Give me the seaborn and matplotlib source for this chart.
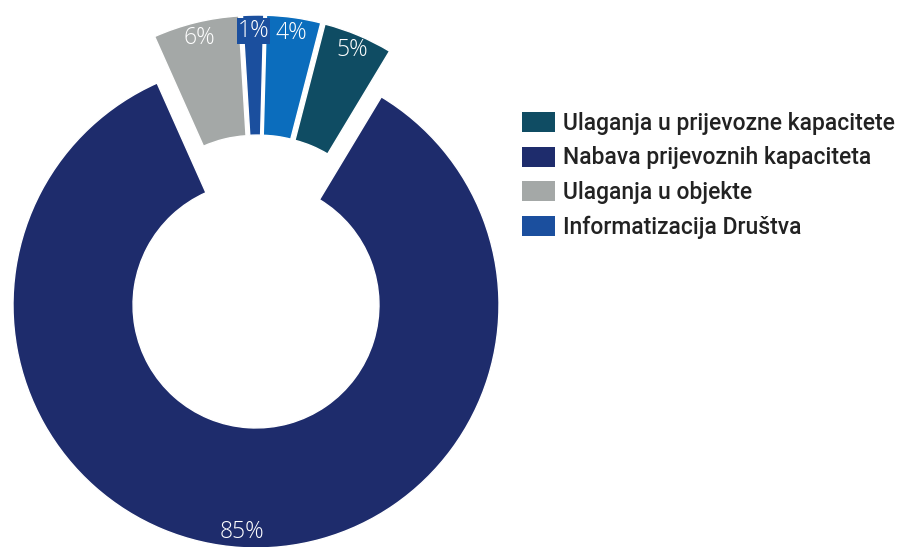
import matplotlib
matplotlib.use("Agg")
import matplotlib.pyplot as plt
import seaborn as sns
import numpy as np

categories = ["Ulaganja u prijevozne kapacitete", "Nabava prijevoznih kapaciteta",
              "Ulaganja u objekte", "Informatizacija Društva", "Ostalo"]
values = [4.6, 84.7, 5.7, 1.4, 3.6]
legend_count = 4
colors = ["#0f4c63", "#1e2c6c", "#a4a8a7", "#1b4f9e", "#0b6dbd"]
explode = [0.07, 0.0, 0.07, 0.07, 0.07]

sns.set_theme(style="white")
plt.rcParams['font.family'] = ['Open Sans', 'DejaVu Sans']

W, H = 898, 547
fig = plt.figure(figsize=(W / 100, H / 100), dpi=100)
ax = fig.add_axes([0, 0, 1, 1])
R = 243.0
cx, cy = 256.0, 305.0

wedges, texts, autotexts = ax.pie(
    values, colors=colors, explode=explode, startangle=75.5,
    counterclock=False, radius=1.0, autopct="%.0f%%", pctdistance=0.935,
    wedgeprops=dict(width=0.494, edgecolor="white", linewidth=1.0),
    textprops=dict(color="white", fontsize=16.5, fontweight="light"))

# the exploded group is additionally pulled upward together
shift = np.array([0.0065, 0.1233])
smallest = int(np.argmin(values))
for i, (w, t) in enumerate(zip(wedges, autotexts)):
    if explode[i] > 0:
        c = np.array(w.center) + shift
        w.set_center(tuple(c))
        x, y = t.get_position()
        t.set_position((x + shift[0], y + shift[1]))
    if i == smallest:
        t.set_bbox(dict(facecolor=colors[i], edgecolor="none", pad=0.5))
        t.set_zorder(5)

ax.set_xlim(-cx / R, (W - cx) / R)
ax.set_ylim(-(H - cy) / R, cy / R)
ax.set_aspect("auto")
ax.axis("off")

leg = fig.legend(wedges[:legend_count], categories[:legend_count],
                 loc="upper left", bbox_to_anchor=(522 / W, 1 - 112 / H),
                 frameon=False, handlelength=1.44, handleheight=0.96,
                 handletextpad=0.36, labelspacing=0.5, borderaxespad=0,
                 borderpad=0,
                 prop=dict(family=['Roboto', 'DejaVu Sans'], size=16.5, weight='medium'))
for t in leg.get_texts():
    t.set_color("#222222")
for h in leg.legend_handles:
    h.set_edgecolor("none")

fig.savefig("out.png", dpi=100, facecolor="white")
